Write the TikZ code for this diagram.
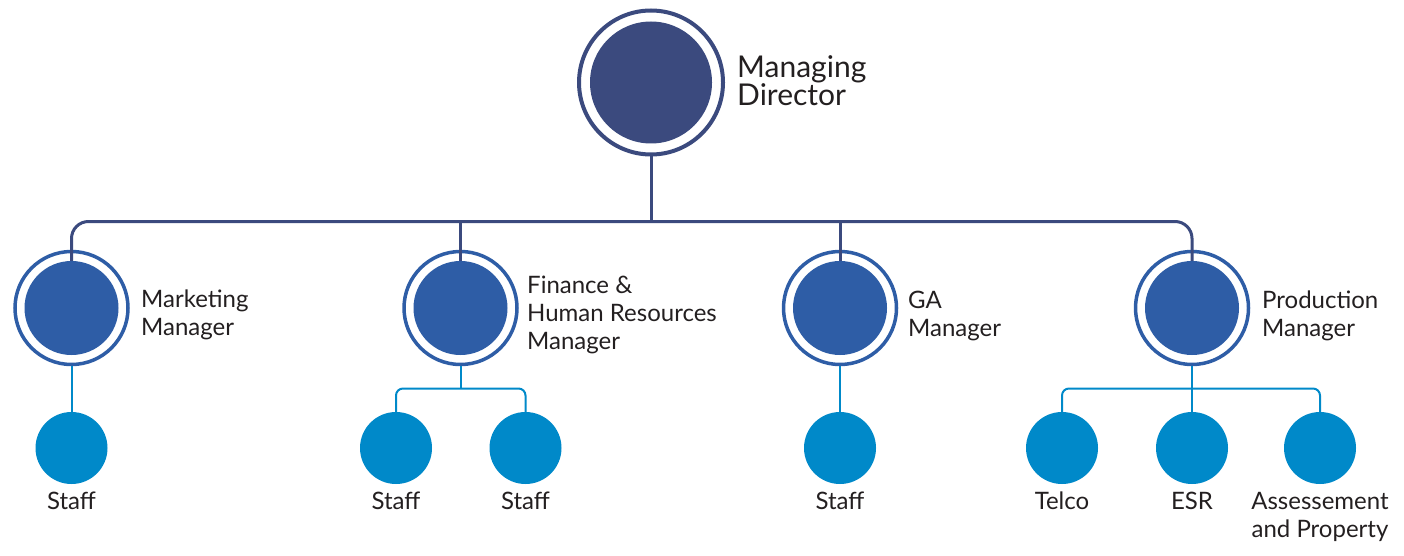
\documentclass[tikz,border=0pt]{standalone}
\usepackage{fontspec}
\setmainfont{Lato}
\definecolor{navy}{HTML}{3B4A7E}
\definecolor{mblue}{HTML}{2E5DA6}
\definecolor{sblue}{HTML}{0089C9}
\definecolor{txt}{HTML}{231F20}
\begin{document}
\begin{tikzpicture}[x=1pt,y=-1pt,
  mdring/.style={circle,draw=navy,line width=4pt,fill=white,minimum size=144pt,inner sep=0pt},
  mddisk/.style={circle,fill=navy,minimum size=122pt,inner sep=0pt},
  mring/.style={circle,draw=mblue,line width=3.5pt,fill=white,minimum size=113pt,inner sep=0pt},
  mdisk/.style={circle,fill=mblue,minimum size=94pt,inner sep=0pt},
  sdisk/.style={circle,fill=sblue,minimum size=72pt,inner sep=0pt},
  bigline/.style={draw=navy,line width=3pt},
  subline/.style={draw=sblue,line width=2pt},
  mdlabel/.style={anchor=base west,align=left,inner sep=0pt,text=txt,font=\fontsize{30}{26}\selectfont},
  mlabel/.style={anchor=base west,align=left,inner sep=0pt,text=txt,font=\fontsize{24}{28}\selectfont},
  slabel/.style={anchor=base,align=center,inner sep=0pt,text=txt,font=\fontsize{24}{28}\selectfont}]
\useasboundingbox (0,0) rectangle (1404,556);
% top
\node[mdring] (mdr) at (651,82.5) {};
% managers rings
\node[mring] (r1) at (71.5,308) {};
\node[mring] (r2) at (460.5,308) {};
\node[mring] (r3) at (840,308) {};
\node[mring] (r4) at (1192,308) {};
% connectors
\coordinate (bus) at (651,221.5);
\coordinate (fb) at (460.5,388.5);
\coordinate (pb) at (1192,388.5);
% staff
\node[sdisk] (s1) at (71.5,448) {};
\node[sdisk] (s2) at (396,448) {};
\node[sdisk] (s3) at (525.5,448) {};
\node[sdisk] (s4) at (840,448) {};
\node[sdisk] (s5) at (1062,448) {};
\node[sdisk] (s6) at (1192,448) {};
\node[sdisk] (s7) at (1320,448) {};
\node[mddisk] (md) at (651,82.5) {};
\node[mdisk] (m1) at (71.5,308) {};
\node[mdisk] (m2) at (460.5,308) {};
\node[mdisk] (m3) at (840,308) {};
\node[mdisk] (m4) at (1192,308) {};
\path[bigline] (mdr.south) -- (bus);
\path[bigline,rounded corners=17pt] (m1.north) |- (bus) -| (m4.north);
\path[bigline] (bus -| m2.north) -- (m2.north);
\path[bigline] (bus -| m3.north) -- (m3.north);
\path[subline] (r1.south) -- (s1.north);
\path[subline] (r2.south) -- (fb);
\path[subline,rounded corners=7pt] (s2.north) |- (fb) -| (s3.north);
\path[subline] (r3.south) -- (s4.north);
\path[subline] (r4.south) -- (s6.north);
\path[subline,rounded corners=7pt] (s5.north) |- (pb) -| (s7.north);
% labels (base anchor = baseline of last line)
\node[mdlabel] (tmd) at (737,106) {Managing\\Director};
\node[mlabel] (t1) at (141,335) {Marketing\\Manager};
\node[mlabel] (t2) at (527,349) {Finance \&\\Human Resources\\Manager};
\node[mlabel] (t3) at (908,336) {GA\\Manager};
\node[mlabel] (t4) at (1262,336) {Production\\Manager};
\node[slabel] (l1) at (71.5,509) {Staff};
\node[slabel] (l2) at (396,509) {Staff};
\node[slabel] (l3) at (525.5,509) {Staff};
\node[slabel] (l4) at (840,509) {Staff};
\node[slabel] (l5) at (1062,509) {Telco};
\node[slabel] (l6) at (1192,509) {ESR};
\node[slabel] (l7) at (1320,537) {Assessement\\and Property};
\end{tikzpicture}
\end{document}
